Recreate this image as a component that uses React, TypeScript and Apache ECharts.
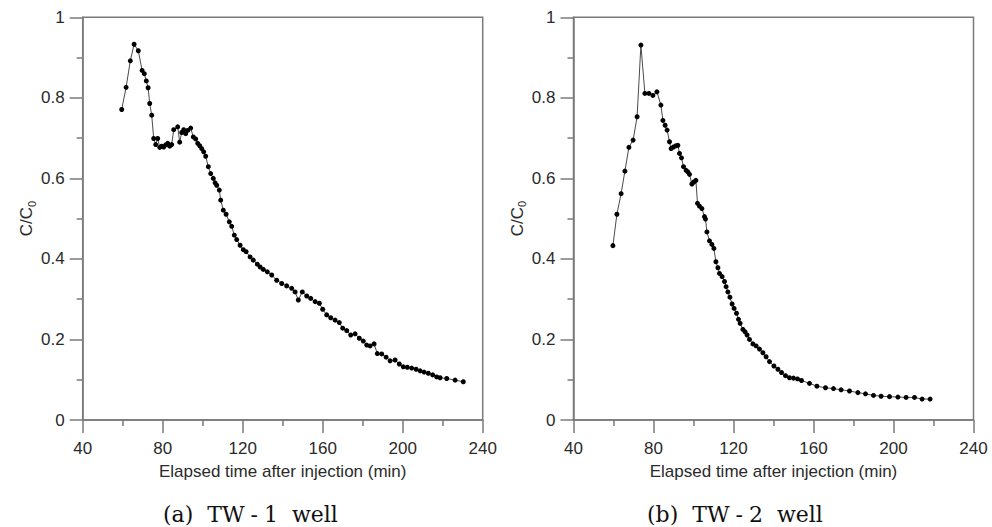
import React, { useEffect, useRef } from "react";
import * as echarts from "echarts";

// TW-1 well
const tw1Time = [59.5, 61.7, 63.8, 65.7, 67.8, 69.7, 70.8, 71.8, 72.7, 73.5, 74.5, 75.5, 76.5, 77.5, 78.5, 79.5, 80.5, 81.5, 82.5, 83.5, 84.5, 85.5, 87.5, 88.5, 89.5, 90.5, 91.5, 92.5, 94, 95.3, 96.5, 97.5, 98.5, 99.5, 100.5, 101.5, 102.8, 104, 105.3, 106.2, 107, 108.3, 109, 110.3, 111.7, 113.3, 114.5, 115.8, 117, 118.7, 120.3, 121.7, 123.7, 125.3, 127.3, 128.7, 130.3, 132.3, 134.5, 137, 139.5, 142, 144.5, 146.2, 147.8, 149.8, 152, 154, 156.2, 158.3, 160, 162, 164, 166.2, 168.3, 170, 172, 174, 176.2, 178.3, 180.3, 182, 183.7, 185.7, 187.3, 189.5, 191.7, 193.7, 196.2, 198.3, 200.3, 202.3, 204.5, 206.7, 208.7, 210.7, 212.8, 215, 217, 218.7, 222, 226.2, 230.3];
const tw1Conc = [0.771, 0.826, 0.892, 0.933, 0.917, 0.868, 0.860, 0.842, 0.825, 0.786, 0.757, 0.699, 0.684, 0.699, 0.677, 0.680, 0.678, 0.683, 0.687, 0.680, 0.684, 0.721, 0.728, 0.690, 0.714, 0.721, 0.711, 0.719, 0.725, 0.703, 0.698, 0.687, 0.681, 0.674, 0.666, 0.655, 0.629, 0.612, 0.600, 0.589, 0.583, 0.571, 0.546, 0.521, 0.511, 0.492, 0.481, 0.459, 0.448, 0.434, 0.423, 0.418, 0.405, 0.397, 0.387, 0.380, 0.374, 0.368, 0.360, 0.347, 0.339, 0.333, 0.327, 0.318, 0.298, 0.318, 0.308, 0.302, 0.294, 0.290, 0.275, 0.261, 0.254, 0.248, 0.242, 0.228, 0.222, 0.211, 0.214, 0.203, 0.196, 0.186, 0.184, 0.189, 0.165, 0.164, 0.156, 0.147, 0.149, 0.139, 0.132, 0.131, 0.129, 0.126, 0.122, 0.119, 0.116, 0.112, 0.107, 0.105, 0.103, 0.099, 0.095];

// TW-2 well
const tw2Time = [59.7, 61.7, 63.8, 65.7, 67.7, 69.8, 71.8, 73.7, 75.7, 77.7, 79.7, 81.7, 83.7, 84.7, 85.8, 86.8, 88, 88.8, 90, 91.3, 92.2, 93, 94, 95, 96.3, 97.2, 98, 99.2, 100.2, 101.2, 102, 103, 104.2, 105.5, 106, 106.7, 108, 109.2, 110.2, 111.2, 112.2, 113, 114.3, 115.5, 116.3, 117.2, 118.2, 119.3, 120.3, 121.5, 122.5, 123.3, 124.7, 125.8, 126.8, 128, 129.7, 131.3, 133, 134.7, 136.3, 138, 140.2, 142.2, 144, 146, 148, 150, 152, 154, 158, 161.7, 166, 170, 173.8, 178, 182.2, 186, 190, 193.8, 198, 202.2, 206.3, 210.5, 214.3, 218.3];
const tw2Conc = [0.433, 0.511, 0.562, 0.618, 0.677, 0.695, 0.753, 0.931, 0.811, 0.811, 0.806, 0.815, 0.782, 0.744, 0.732, 0.720, 0.691, 0.674, 0.678, 0.681, 0.682, 0.662, 0.651, 0.629, 0.620, 0.616, 0.610, 0.586, 0.591, 0.595, 0.538, 0.531, 0.525, 0.505, 0.499, 0.467, 0.445, 0.436, 0.426, 0.393, 0.378, 0.364, 0.356, 0.344, 0.331, 0.318, 0.305, 0.288, 0.277, 0.265, 0.250, 0.240, 0.225, 0.219, 0.211, 0.200, 0.189, 0.184, 0.176, 0.167, 0.157, 0.145, 0.134, 0.126, 0.118, 0.110, 0.105, 0.104, 0.102, 0.098, 0.091, 0.084, 0.080, 0.078, 0.075, 0.072, 0.068, 0.065, 0.061, 0.059, 0.058, 0.057, 0.056, 0.056, 0.052, 0.052];

const captions = ["(a)  TW{d|-}1  well", "(b)  TW{d|-}2  well"];
const xName = "Elapsed time after injection (min)";

const AXIS_COLOR = "#7a7a7a";
const LABEL_COLOR = "#2a2a2a";
const SANS = "Liberation Sans, Arial, sans-serif";
const SERIF = "'DejaVu Serif', serif";

function makeX(gridIndex: number) {
  return {
    type: "value",
    gridIndex,
    min: 40,
    max: 240,
    interval: 40,
    name: xName,
    nameLocation: "middle",
    nameGap: 43,
    nameTextStyle: { fontFamily: SANS, fontSize: 17, color: LABEL_COLOR },
    axisLine: { show: true, onZero: false, lineStyle: { color: AXIS_COLOR, width: 1.5 } },
    axisTick: { show: true, inside: false, length: 13, lineStyle: { color: AXIS_COLOR, width: 1.5 } },
    minorTick: { show: true, splitNumber: 2, length: 6, lineStyle: { color: AXIS_COLOR, width: 1.5 } },
    axisLabel: { fontFamily: SANS, fontSize: 17, color: LABEL_COLOR, margin: 20 },
    splitLine: { show: false },
  };
}

function makeY(gridIndex: number) {
  return {
    type: "value",
    gridIndex,
    min: 0,
    max: 1,
    interval: 0.2,
    name: "C/C{sub|0}",
    nameLocation: "middle",
    nameRotate: 90,
    nameGap: 44,
    nameTextStyle: {
      fontFamily: SANS,
      fontSize: 17,
      color: LABEL_COLOR,
      rich: {
        sub: { fontFamily: SANS, fontSize: 11, color: LABEL_COLOR, verticalAlign: "bottom", padding: [10, 0, 0, 0] },
      },
    },
    axisLine: { show: true, onZero: false, lineStyle: { color: AXIS_COLOR, width: 1.5 } },
    axisTick: { show: true, inside: false, length: 13, lineStyle: { color: AXIS_COLOR, width: 1.5 } },
    minorTick: { show: true, splitNumber: 2, length: 6, lineStyle: { color: AXIS_COLOR, width: 1.5 } },
    axisLabel: { fontFamily: SANS, fontSize: 17, color: LABEL_COLOR, margin: 18 },
    splitLine: { show: false },
  };
}

function makeSeries(idx: number, xs: number[], ys: number[]) {
  return {
    type: "line",
    xAxisIndex: idx,
    yAxisIndex: idx,
    data: xs.map((x, i) => [x, ys[i]]),
    symbol: "circle",
    symbolSize: 5,
    showSymbol: true,
    itemStyle: { color: "#000" },
    lineStyle: { color: "#4a4a4a", width: 1 },
    emphasis: { disabled: true },
  };
}

function caption(text: string, left: number) {
  return {
    type: "text",
    left,
    top: 503,
    style: {
      text,
      fontFamily: SERIF,
      fontSize: 22,
      fill: "#111",
      rich: {
        d: { fontFamily: SERIF, fontSize: 22, color: "#111", padding: [0, 6, 0, 6] },
      },
    },
  };
}

export default function App() {
  const ref = useRef<HTMLDivElement>(null);
  useEffect(() => {
    if (!ref.current) return;
    const chart = echarts.init(ref.current, null, { renderer: "svg" });
    chart.setOption({
      animation: false,
      backgroundColor: "#fff",
      grid: [
        { left: 82.7, top: 17.3, width: 400, height: 402.7, show: true, borderColor: AXIS_COLOR, borderWidth: 1.5, backgroundColor: "transparent" },
        { left: 573.5, top: 17.3, width: 400, height: 402.7, show: true, borderColor: AXIS_COLOR, borderWidth: 1.5, backgroundColor: "transparent" },
      ],
      xAxis: [makeX(0), makeX(1)],
      yAxis: [makeY(0), makeY(1)],
      series: [makeSeries(0, tw1Time, tw1Conc), makeSeries(1, tw2Time, tw2Conc)],
      graphic: [caption(captions[0], 163), caption(captions[1], 647)],
    });
    return () => chart.dispose();
  }, []);
  return (
    <div
      ref={ref}
      style={{ position: "fixed", left: 0, top: 0, width: 992, height: 527, background: "#fff" }}
    />
  );
}
